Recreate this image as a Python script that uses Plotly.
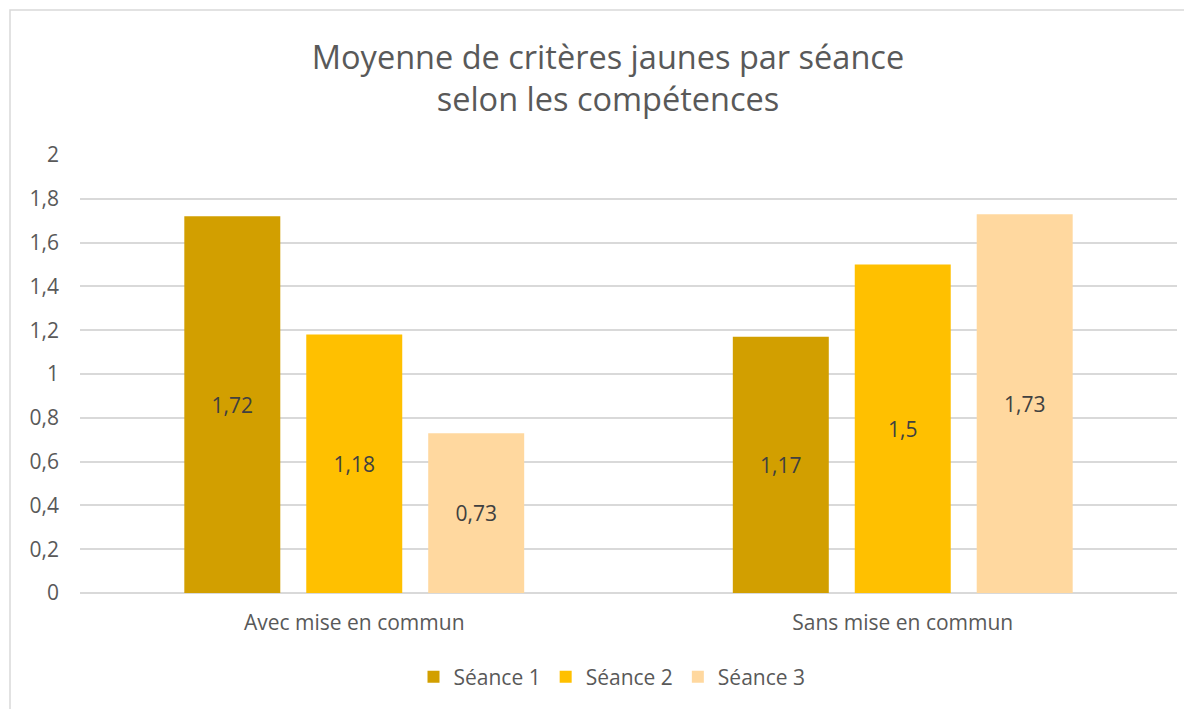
import plotly.graph_objects as go

categories = ["Avec mise en commun", "Sans mise en commun"]
series_names = ["Séance 1", "Séance 2", "Séance 3"]
seance1 = [1.72, 1.17]
seance2 = [1.18, 1.5]
seance3 = [0.73, 1.73]
colors = ["#D29F00", "#FFC000", "#FFD89F"]

FONT = "'Open Sans', Lato, sans-serif"

fig = go.Figure()
for name, vals, col in zip(series_names, [seance1, seance2, seance3], colors):
    fig.add_trace(go.Bar(
        x=categories, y=vals, name=name,
        marker=dict(color=col, line=dict(width=0)),
        text=[str(v).replace(".", ",") for v in vals],
        textposition="inside", insidetextanchor="middle",
        textfont=dict(size=21, color="#404040", family=FONT),
        constraintext="none",
    ))

# page is rendered with an 8px body offset
OFF = 8
W, H = 1192 - OFF, 709 - OFF
L, R, T, B = 80 - OFF, 15, 155 - OFF, 116
pw, ph = W - L - R, H - T - B

fig.update_layout(
    width=W, height=H,
    margin=dict(l=L, r=R, t=T, b=B),
    paper_bgcolor="white", plot_bgcolor="white",
    separators=", ",
    barmode="group", bargap=0.333, bargroupgap=0.213,
    font=dict(family=FONT, color="#595959", size=21),
    title=dict(
        text="Moyenne de critères jaunes par séance<br>selon les compétences",
        x=(608 - OFF) / W, xref="container", xanchor="center",
        y=1 - 61 / H, yref="container", yanchor="middle",
        font=dict(size=32.5, color="#595959", family=FONT),
    ),
    legend=dict(
        orientation="h", xref="container", x=(612 - OFF) / W, xanchor="center",
        yref="container", y=1 - (677 - OFF) / H, yanchor="middle",
        font=dict(size=21, color="#595959", family=FONT),
        traceorder="normal", itemwidth=30,
    ),
    xaxis=dict(showgrid=False, showline=False, ticks="", tickfont=dict(size=21),
               ticklabelstandoff=15),
    yaxis=dict(range=[0, 2], tickvals=[0, 0.2, 0.4, 0.6, 0.8, 1, 1.2, 1.4, 1.6, 1.8, 2],
               showgrid=True, gridcolor="#D9D9D9", gridwidth=1.5,
               zeroline=True, zerolinecolor="#D9D9D9", zerolinewidth=1.5,
               showline=False, ticks="", tickfont=dict(size=21),
               ticklabelstandoff=20),
    shapes=[dict(
        type="rect", xref="paper", yref="paper",
        x0=(2 - L) / pw, x1=(W + 5 - L) / pw,
        y0=-(H + 5 - (H - B)) / ph, y1=((H - B) - 2) / ph,
        line=dict(color="#D9D9D9", width=1.5), fillcolor="rgba(0,0,0,0)",
        layer="below",
    )],
)

fig.write_html("out.html")
